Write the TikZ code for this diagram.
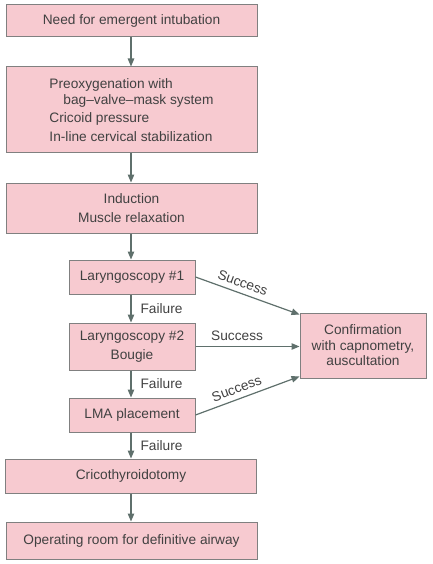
\documentclass[tikz,border=0pt]{standalone}
\usepackage{fontspec}
\setmainfont{Liberation Sans}
\usetikzlibrary{arrows.meta,calc}
\definecolor{boxfill}{RGB}{247,202,208}
\definecolor{boxline}{RGB}{128,128,128}
\definecolor{arrowcol}{RGB}{95,112,108}
\definecolor{txt}{RGB}{65,65,65}
\begin{document}
\begin{tikzpicture}[x=1pt,y=-1pt,
  every node/.style={font=\fontsize{13.7}{16}\selectfont, text=txt},
  box/.style={draw=boxline, fill=boxfill, line width=1pt, rectangle, inner sep=0pt, align=center},
  wide/.style={box, minimum width=251pt},
  narrow/.style={box, minimum width=126pt},
  arr/.style={draw=arrowcol, line width=1.2pt, -{Triangle[length=8pt,width=6.5pt]}},
  lbl/.style={text=txt, inner sep=1pt}]
\useasboundingbox (0,0) rectangle (432,564);
\node[wide, minimum height=32pt] (need) at (131.5,20.5) {Need for emergent intubation};
\node[wide, minimum height=86pt, align=left] (pre) at (131.5,110)
  {Preoxygenation with\\\hspace*{14pt}bag--valve--mask system\\[2.5pt]Cricoid pressure\\[2.5pt]In-line cervical stabilization};
\node[wide, minimum height=50pt, font=\fontsize{13.7}{19}\selectfont] (ind) at (131.5,208) {Induction\\Muscle relaxation};
\node[narrow, minimum height=34pt] (lar1) at (132,277) {Laryngoscopy \#1};
\node[narrow, minimum height=47pt, font=\fontsize{13.7}{19}\selectfont] (lar2) at (132,346.5) {Laryngoscopy \#2\\Bougie};
\node[narrow, minimum height=65pt, font=\fontsize{13.7}{15.5}\selectfont] (conf) at (363,345.5) {Confirmation\\with capnometry,\\auscultation};
\node[narrow, minimum height=34pt] (lma) at (132,415) {LMA placement};
\node[wide, minimum height=34pt] (cric) at (131,476) {Cricothyroidotomy};
\node[wide, minimum height=37pt] (or) at (131.5,540.5) {Operating room for definitive airway};

\draw[arr] (need.south -| 131,0) -- (pre.north -| 131,0);
\draw[arr] (pre.south -| 131,0) -- (ind.north -| 131,0);
\draw[arr] (ind.south -| 131,0) -- (lar1.north -| 131,0);
\draw[arr] (lar1.south -| 131,0) -- node[lbl, right=8pt] {Failure} (lar2.north -| 131,0);
\draw[arr] (lar2.south -| 131,0) -- node[lbl, right=8pt] {Failure} (lma.north -| 131,0);
\draw[arr] (lma.south -| 131,0) -- node[lbl, right=8pt] {Failure} (cric.north -| 131,0);
\draw[arr] (cric.south -| 131,0) -- (or.north -| 131,0);

\draw[arr] (lar1.east) -- node[lbl, pos=0.42, above=4pt, sloped] {Success} (conf.154);
\draw[arr] (lar2.east) -- node[lbl, pos=0.4, above=4pt] {Success} (lar2.east -| conf.west);
\draw[arr] (lma.east) -- node[lbl, pos=0.43, above=4pt, sloped] {Success} (conf.206);
\end{tikzpicture}
\end{document}
